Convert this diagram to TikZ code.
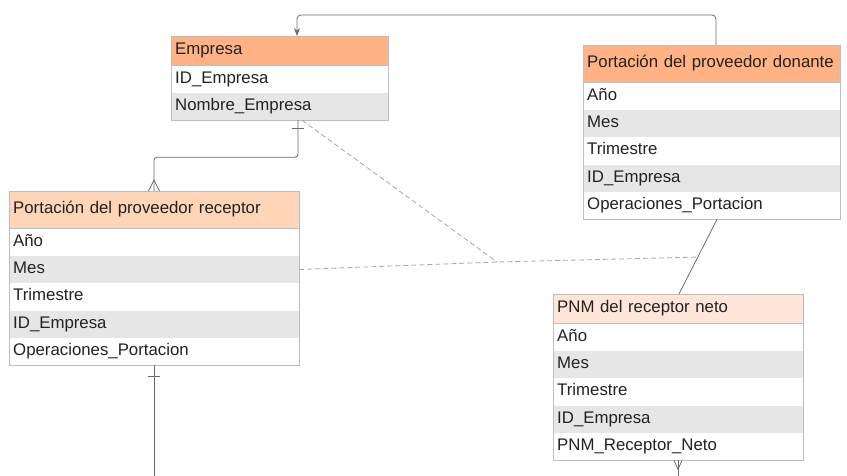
\documentclass[tikz,border=0pt]{standalone}
\usepackage{fontspec}
\setmainfont{Liberation Sans}
\usetikzlibrary{positioning,arrows.meta}

\definecolor{hdrfuerte}{HTML}{FFB385}
\definecolor{hdrmedio}{HTML}{FFD5B8}
\definecolor{hdrclaro}{HTML}{FFE6D8}
\definecolor{filagris}{HTML}{E6E6E6}
\definecolor{borde}{HTML}{BDBDBD}
\definecolor{texto}{HTML}{222222}
\definecolor{linea}{HTML}{6B6B6B}
\definecolor{lineaclara}{HTML}{A8A8A8}

\tikzset{
  hdr/.style={draw=borde, fill=#1, anchor=north west, inner xsep=4pt, inner ysep=0pt,
    text height=12pt, text depth=4pt, text=texto, font=\fontsize{16.8}{19}\selectfont},
  fld/.style={fill=white, inner xsep=4pt, inner ysep=0pt, minimum height=27pt,
    text height=12pt, text depth=4pt, text=texto, font=\fontsize{16.8}{19}\selectfont},
  fldgris/.style={fld, fill=filagris},
  marco/.style={draw=borde, line width=0.8pt},
  conn/.style={draw=linea, line width=0.8pt},
  dashln/.style={draw=lineaclara, line width=0.8pt, dash pattern=on 5pt off 3pt}
}

\begin{document}
\begin{tikzpicture}[x=1pt,y=-1pt]
  \useasboundingbox (0,0) rectangle (847,476);

  % Empresa
  \node[hdr=hdrfuerte, text width=209pt, minimum height=29pt] (emp) at (171,36) {Empresa};
  \node[fld, text width=209pt, below=0pt of emp] (emp1) {ID\_Empresa};
  \node[fldgris, text width=209pt, below=0pt of emp1] (emp2) {Nombre\_Empresa};
  \draw[marco] (emp.north west) rectangle (emp2.south east);

  % Portacion del proveedor donante
  \node[hdr=hdrfuerte, text width=249pt, minimum height=37pt] (don) at (583,45) {Portación del proveedor donante};
  \node[fld, text width=249pt, below=0pt of don] (don1) {Año};
  \node[fldgris, text width=249pt, below=0pt of don1] (don2) {Mes};
  \node[fld, text width=249pt, below=0pt of don2] (don3) {Trimestre};
  \node[fldgris, text width=249pt, below=0pt of don3] (don4) {ID\_Empresa};
  \node[fld, text width=249pt, below=0pt of don4] (don5) {Operaciones\_Portacion};
  \draw[marco] (don.north west) rectangle (don5.south east);

  % Portacion del proveedor receptor
  \node[hdr=hdrmedio, text width=282pt, minimum height=37pt] (rec) at (9,191) {Portación del proveedor receptor};
  \node[fld, text width=282pt, below=0pt of rec] (rec1) {Año};
  \node[fldgris, text width=282pt, below=0pt of rec1] (rec2) {Mes};
  \node[fld, text width=282pt, below=0pt of rec2] (rec3) {Trimestre};
  \node[fldgris, text width=282pt, below=0pt of rec3] (rec4) {ID\_Empresa};
  \node[fld, text width=282pt, below=0pt of rec4] (rec5) {Operaciones\_Portacion};
  \draw[marco] (rec.north west) rectangle (rec5.south east);

  % PNM del receptor neto
  \node[hdr=hdrclaro, text width=242pt, minimum height=29pt] (pnm) at (553,294) {PNM del receptor neto};
  \node[fld, text width=242pt, below=0pt of pnm] (pnm1) {Año};
  \node[fldgris, text width=242pt, below=0pt of pnm1] (pnm2) {Mes};
  \node[fld, text width=242pt, below=0pt of pnm2] (pnm3) {Trimestre};
  \node[fldgris, text width=242pt, below=0pt of pnm3] (pnm4) {ID\_Empresa};
  \node[fld, text width=242pt, below=0pt of pnm4] (pnm5) {PNM\_Receptor\_Neto};
  \draw[marco] (pnm.north west) rectangle (pnm5.south east);

  % connectors
  \draw[conn, rounded corners=4pt, -{Stealth[length=8pt,width=6pt]}]
    ([xshift=133pt]don.north west) -- ++(0,-30) -| ([xshift=126pt]emp.north west);

  \draw[conn, rounded corners=3pt] ([xshift=127pt]emp2.south west) -- ++(0,37) -| ([xshift=145pt]rec.north west);
  \draw[conn] ([xshift=121pt,yshift=-8pt]emp2.south west) -- ++(12,0);
  \draw[conn] ([xshift=139.5pt]rec.north west) -- ([xshift=145pt,yshift=11pt]rec.north west)
    -- ([xshift=150.5pt]rec.north west);

  \coordinate (recfin) at (154,476);
  \draw[conn] ([xshift=145pt]rec5.south west) -- (recfin);
  \draw[conn] ([xshift=139pt,yshift=-11pt]rec5.south west) -- ++(12,0);

  \coordinate (cruce) at (497,262);
  \coordinate (cruceder) at (700,257);
  \draw[dashln] ([xshift=131pt]emp2.south west) -- (cruce);
  \draw[dashln] (rec2.east) -- (cruce) -- (cruceder);

  \draw[conn] ([xshift=134pt]don5.south west) -- ([xshift=126pt]pnm.north west);

  \coordinate (pnmfin) at (678,476);
  \draw[conn] ([xshift=125pt]pnm5.south west) -- (pnmfin);
  \draw[conn] ([xshift=121pt]pnm5.south west) -- ([xshift=125pt,yshift=-9pt]pnm5.south west)
    -- ([xshift=129pt]pnm5.south west);
\end{tikzpicture}
\end{document}
